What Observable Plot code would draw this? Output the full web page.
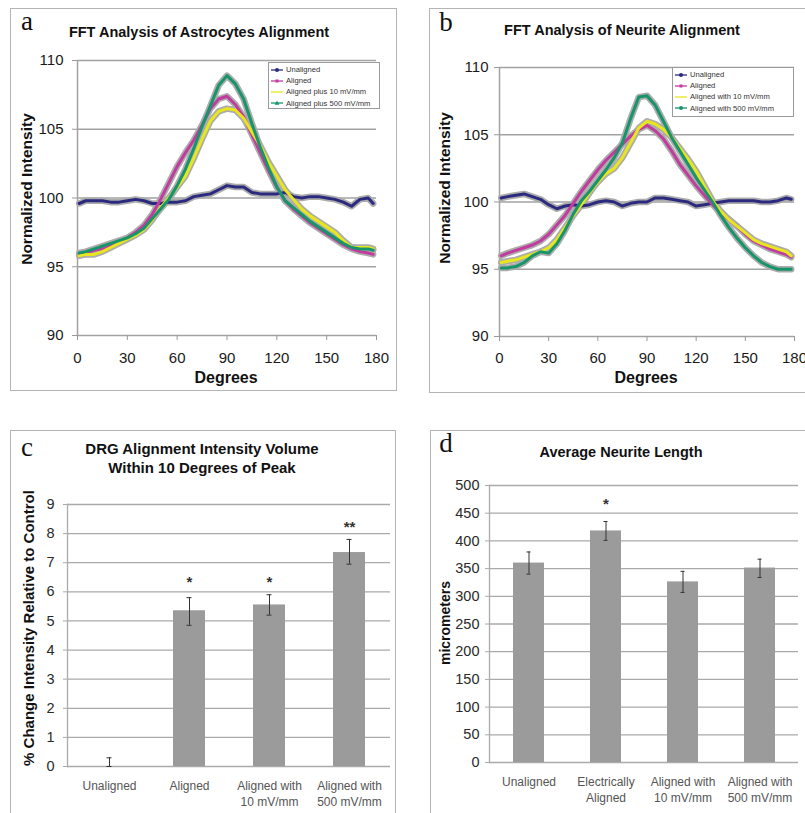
<!DOCTYPE html>
<html>
<head>
<meta charset="utf-8">
<script src="https://cdn.jsdelivr.net/npm/d3@7"></script>
<script src="https://cdn.jsdelivr.net/npm/@observablehq/plot@0.6"></script>
<style>
  html, body { margin: 0; padding: 0; background: #fff; }
  #root { position: relative; width: 805px; height: 813px; overflow: hidden; background: #fff;
          font-family: "Liberation Sans", Arial, sans-serif; color: #111; }
  .box { position: absolute; border: 1px solid #b4b4b4; box-sizing: border-box; }
  .abs { position: absolute; white-space: nowrap; transform: translate(-50%, -50%); }
  .letter { font-family: "Liberation Serif", "DejaVu Serif", serif; font-size: 27px; }
  .title { font-weight: bold; font-size: 14.5px; text-align: center; line-height: 19px; }
  .alabel { font-weight: bold; }
  .rot { transform: translate(-50%, -50%) rotate(-90deg); }
  .plot { position: absolute; }
  .legend { position: absolute; border: 1px solid #9a9a9a; background: #fff; box-sizing: border-box; padding: 1px 2px; }
  .legend div { display: flex; align-items: center; height: 11.2px; font-size: 7.6px; color: #333; white-space: nowrap; }
  .legend svg { margin-right: 3px; flex: none; }
</style>
</head>
<body>
<div id="root"></div>
<script>
// ---------- data ----------
const degrees = [1,5,10,15,20,25,30,35,40,45,50,55,60,65,70,75,80,85,90,95,100,105,110,115,120,125,130,135,140,145,150,155,160,165,170,175,178];

// Panel a: FFT Analysis of Astrocytes Alignment
const aNames = ["Unaligned", "Aligned", "Aligned plus 10 mV/mm", "Aligned plus 500 mV/mm"];
const aUnaligned = [99.6,99.8,99.8,99.8,99.7,99.7,99.8,99.9,99.8,99.6,99.6,99.7,99.7,99.8,100.1,100.2,100.3,100.6,100.9,100.8,100.8,100.4,100.3,100.3,100.3,100.4,100.1,100.0,100.1,100.1,100.0,99.9,99.7,99.4,99.9,100.0,99.6];
const aAligned = [95.9,96.0,96.2,96.3,96.5,96.8,97.1,97.5,98.0,98.8,99.9,101.1,102.3,103.3,104.2,105.3,106.5,107.2,107.4,106.8,105.9,104.6,103.3,102.0,100.8,99.8,99.2,98.7,98.2,97.8,97.4,97.0,96.6,96.3,96.1,96.0,95.9];
const aPlus10 = [95.8,95.9,95.9,96.1,96.4,96.7,97.0,97.3,97.7,98.4,99.3,100.0,100.8,101.6,102.9,104.3,105.6,106.3,106.5,106.4,105.8,104.8,103.8,102.6,101.6,100.6,99.9,99.2,98.7,98.3,97.9,97.5,96.9,96.4,96.4,96.4,96.3];
const aPlus500 = [96.0,96.1,96.3,96.5,96.7,96.9,97.1,97.4,97.8,98.5,99.2,99.9,100.9,102.1,103.6,105.2,106.7,108.2,108.9,108.3,107.2,105.4,103.7,102.2,100.8,99.8,99.3,98.8,98.3,97.9,97.5,97.1,96.7,96.4,96.3,96.3,96.2];

// Panel b: FFT Analysis of Neurite Alignment
const bNames = ["Unaligned", "Aligned", "Aligned with 10 mV/mm", "Aligned with 500 mV/mm"];
const bUnaligned = [100.3,100.4,100.5,100.6,100.4,100.2,99.8,99.5,99.7,99.8,99.7,99.8,100.0,100.1,100.0,99.7,99.9,100.0,100.0,100.3,100.3,100.2,100.1,100.0,99.7,99.8,99.9,100.0,100.1,100.1,100.1,100.1,100.0,100.0,100.1,100.3,100.2];
const bAligned = [96.0,96.2,96.4,96.6,96.8,97.1,97.6,98.3,99.0,99.9,100.8,101.6,102.4,103.1,103.7,104.3,104.9,105.4,105.7,105.3,104.7,103.8,102.8,102.0,101.2,100.5,99.8,99.2,98.7,98.2,97.6,97.1,96.8,96.5,96.3,96.1,95.9];
const bPlus10 = [95.5,95.6,95.7,95.9,96.1,96.3,96.6,97.2,98.1,99.0,99.8,100.7,101.5,102.1,102.5,103.3,104.4,105.5,106.0,105.8,105.4,104.8,104.0,103.2,102.3,101.2,100.1,99.3,98.7,98.2,97.7,97.2,96.9,96.7,96.5,96.3,96.0];
const bPlus500 = [95.1,95.1,95.2,95.5,96.0,96.3,96.2,96.9,97.9,99.1,100.1,100.8,101.6,102.4,103.3,104.4,106.2,107.8,107.9,107.2,106.0,104.8,103.8,102.8,101.8,100.9,100.0,99.0,98.1,97.3,96.6,96.0,95.5,95.2,95.0,95.0,95.0];

const fftXTicks = [0, 30, 60, 90, 120, 150, 180];
const fftYTicks = [90, 95, 100, 105, 110];

// Panel c: DRG Alignment Intensity Volume Within 10 Degrees of Peak
const cCategories = ["Unaligned", "Aligned", "Aligned with\n10 mV/mm", "Aligned with\n500 mV/mm"];
const cValues = [0, 5.35, 5.55, 7.35];
const cLow = [0, 4.85, 5.2, 6.95];
const cHigh = [0.3, 5.8, 5.9, 7.8];
const cStars = ["", "*", "*", "**"];
const cStarY = [null, 6.5, 6.5, 8.4];
const cYTicks = [0,1,2,3,4,5,6,7,8,9];

// Panel d: Average Neurite Length
const dCategories = ["Unaligned", "Electrically\nAligned", "Aligned with\n10 mV/mm", "Aligned with\n500 mV/mm"];
const dValues = [360, 418, 326, 351];
const dLow = [340, 401, 307, 334];
const dHigh = [380, 435, 345, 367];
const dStars = ["", "*", "", ""];
const dStarY = [null, 476, null, null];
const dYTicks = [0,50,100,150,200,250,300,350,400,450,500];

const seriesColors = ["#2b2a7e", "#c23b9e", "#e8e61c", "#17956a"];
const FONT = '"Liberation Sans", Arial, sans-serif';

// ---------- helpers ----------
const root = document.getElementById("root");
function addDiv(cls, html, css) {
  const d = document.createElement("div");
  d.className = cls;
  d.innerHTML = html;
  Object.assign(d.style, css);
  root.appendChild(d);
  return d;
}
function place(node, left, top) {
  node.classList.add("plot");
  node.style.left = left + "px";
  node.style.top = top + "px";
  root.appendChild(node);
}

function fftPlot(names, values, size, axisPad) {
  const rows = [];
  names.forEach((name, k) => values[k].forEach((v, i) => rows.push({deg: degrees[i], v, name})));
  return Plot.plot({
    ...size,
    style: {fontFamily: FONT, fontSize: "15px", color: "#1a1a1a", background: "transparent", overflow: "visible"},
    x: {domain: [0, 180]},
    y: {domain: [90, 110]},
    color: {domain: names, range: seriesColors},
    marks: [
      Plot.ruleY(fftYTicks, {stroke: "#a2a2a2", strokeWidth: 1.5}),
      Plot.ruleX([0], {stroke: "#a2a2a2", strokeWidth: 1.5}),
      Plot.axisX({ticks: fftXTicks, tickSize: 5, tickPadding: axisPad.x, stroke: "#999", label: null}),
      Plot.axisY({ticks: fftYTicks, tickSize: 5, tickPadding: axisPad.y, stroke: "#999", label: null}),
      Plot.lineY(rows, {x: "deg", y: "v", z: "name", stroke: "#acacac", strokeWidth: 6.5, strokeLinejoin: "round"}),
      Plot.lineY(rows, {x: "deg", y: "v", z: "name", stroke: "name", strokeWidth: 3, strokeLinejoin: "round"})
    ]
  });
}

function barPlot(cats, vals, lows, highs, stars, starY, yDomain, yTicks, size, axisPad) {
  const rows = cats.map((c, i) => ({cat: c, value: vals[i], low: lows[i], high: highs[i], star: stars[i], starY: starY[i]}));
  return Plot.plot({
    ...size,
    style: {fontFamily: FONT, fontSize: "14.5px", color: "#2a2a2a", background: "transparent", overflow: "visible"},
    x: {domain: cats, paddingInner: 0.6, paddingOuter: 0.3},
    y: {domain: yDomain},
    marks: [
      Plot.ruleY(yTicks, {stroke: "#aaaaaa", strokeWidth: 1.3}),
      Plot.frame({anchor: "left", stroke: "#aaaaaa", strokeWidth: 1.3}),
      Plot.axisY({ticks: yTicks, tickSize: 4, tickPadding: axisPad.y, stroke: "#aaa", label: null}),
      Plot.axisX({tickSize: 0, tickPadding: axisPad.x, label: null, fontSize: 12, fill: "#555", lineHeight: 1.35}),
      Plot.barY(rows, {x: "cat", y: "value", fill: "#9b9b9b"}),
      Plot.ruleX(rows, {x: "cat", y1: "low", y2: "high", stroke: "#333", strokeWidth: 1}),
      Plot.tickY(rows, {x: "cat", y: "low", stroke: "#333", insetLeft: 13.5, insetRight: 13.5}),
      Plot.tickY(rows, {x: "cat", y: "high", stroke: "#333", insetLeft: 13.5, insetRight: 13.5}),
      Plot.text(rows.filter(r => r.star), {x: "cat", y: "starY", text: "star", fontSize: 15, fontWeight: "bold", fill: "#333", dy: 5})
    ]
  });
}

function legend(names, left, top, width, height, markers) {
  const lg = document.createElement("div");
  lg.className = "legend";
  Object.assign(lg.style, {left: left + "px", top: top + "px", width: width + "px", height: height + "px"});
  names.forEach((n, i) => {
    const item = document.createElement("div");
    const c = seriesColors[i];
    let mk = "";
    if (markers[i] === "dot") mk = `<circle cx="6" cy="4" r="2" fill="${c}"/>`;
    if (markers[i] === "square") mk = `<rect x="4.5" y="2.5" width="3" height="3" fill="${c}"/>`;
    if (markers[i] === "tri") mk = `<path d="M6,1.8 L8.4,5.8 L3.6,5.8 Z" fill="${c}"/>`;
    item.innerHTML = `<svg width="12" height="8"><line x1="0" x2="12" y1="4" y2="4" stroke="${c}" stroke-width="1.3"/>${mk}</svg><span>${n}</span>`;
    lg.appendChild(item);
  });
  root.appendChild(lg);
}

// ---------- panel boxes ----------
addDiv("box", "", {left: "10px", top: "8px", width: "387px", height: "383px"});
addDiv("box", "", {left: "429px", top: "8px", width: "390px", height: "385px"});
addDiv("box", "", {left: "10px", top: "430px", width: "386px", height: "400px"});
addDiv("box", "", {left: "430px", top: "430px", width: "390px", height: "400px"});

// ---------- panel a ----------
addDiv("abs letter", "a", {left: "27px", top: "21px"});
addDiv("abs title", "FFT Analysis of Astrocytes Alignment", {left: "199px", top: "32px"});
place(fftPlot(aNames, [aUnaligned, aAligned, aPlus10, aPlus500],
  {width: 385, height: 345, marginLeft: 67, marginRight: 19, marginTop: 15, marginBottom: 55},
  {x: 12, y: 9}), 10, 45);
addDiv("abs alabel", "Degrees", {left: "226px", top: "378px", fontSize: "16px"});
addDiv("abs alabel rot", "Normalized Intensity", {left: "27px", top: "189px", fontSize: "15.5px"});
legend(aNames, 268, 62, 112, 47, ["dot", "square", "none", "tri"]);

// ---------- panel b ----------
addDiv("abs letter", "b", {left: "446px", top: "22px"});
addDiv("abs title", "FFT Analysis of Neurite Alignment", {left: "622px", top: "30px"});
place(fftPlot(bNames, [bUnaligned, bAligned, bPlus10, bPlus500],
  {width: 376, height: 342, marginLeft: 70, marginRight: 11, marginTop: 17, marginBottom: 56},
  {x: 11, y: 6}), 429, 50);
addDiv("abs alabel", "Degrees", {left: "646px", top: "378px", fontSize: "16px"});
addDiv("abs alabel rot", "Normalized Intensity", {left: "445px", top: "188px", fontSize: "15.5px"});
legend(bNames, 672, 67, 122, 50, ["dot", "square", "none", "dot"]);

// ---------- panel c ----------
addDiv("abs letter", "c", {left: "27px", top: "447px"});
addDiv("abs title", "DRG Alignment Intensity Volume<br>Within 10 Degrees of Peak", {left: "202px", top: "458px", fontSize: "15px"});
place(barPlot(cCategories, cValues, cLow, cHigh, cStars, cStarY, [0, 9], cYTicks,
  {width: 385, height: 328, marginLeft: 57, marginRight: 5, marginTop: 19, marginBottom: 47},
  {x: 12, y: 9}), 10, 485);
addDiv("abs alabel rot", "% Change Intensity Relative to Control", {left: "28px", top: "628px", fontSize: "15px"});

// ---------- panel d ----------
addDiv("abs letter", "d", {left: "446px", top: "443px"});
addDiv("abs title", "Average Neurite Length", {left: "621px", top: "452px"});
place(barPlot(dCategories, dValues, dLow, dHigh, dStars, dStarY, [0, 500], dYTicks,
  {width: 375, height: 343, marginLeft: 59, marginRight: 7, marginTop: 15, marginBottom: 51},
  {x: 12, y: 6}), 430, 470);
addDiv("abs alabel rot", "micrometers", {left: "445px", top: "623px", fontSize: "14px"});
</script>
</body>
</html>
